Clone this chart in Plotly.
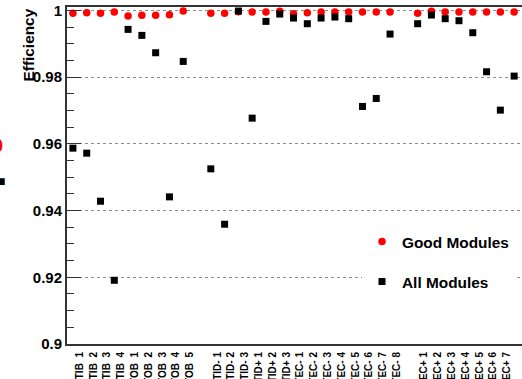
import plotly.graph_objects as go

# ---- data ----
barrel_labels = ["TIB  1", "TIB  2", "TIB  3", "TIB  4", "TOB  1", "TOB  2", "TOB  3", "TOB  4", "TOB  5"]
minus_labels = ["TID- 1", "TID- 2", "TID- 3", "TID+ 1", "TID+ 2", "TID+ 3",
                "TEC- 1", "TEC- 2", "TEC- 3", "TEC- 4", "TEC- 5", "TEC- 6", "TEC- 7", "TEC- 8"]
plus_labels = ["TEC+ 1", "TEC+ 2", "TEC+ 3", "TEC+ 4", "TEC+ 5", "TEC+ 6", "TEC+ 7", "TEC+ 8"]

good_modules = [0.9991, 0.9993, 0.9991, 0.9995, 0.9983, 0.9985, 0.9985, 0.9987, 0.9998,
                0.9991, 0.9991, 0.9996, 0.9995, 0.9995, 0.9997, 0.9990, 0.9993, 0.9995,
                0.9995, 0.9995, 0.9995, 0.9995, 0.9995,
                0.9991, 0.9997, 0.9995, 0.9995, 0.9995, 0.9995, 0.9995, 0.9995]
all_modules = [0.9587, 0.9572, 0.9428, 0.9191, 0.9943, 0.9925, 0.9873, 0.9441, 0.9847,
               0.9525, 0.9359, 0.9998, 0.9677, 0.9967, 0.9989, 0.9977, 0.9960, 0.9977,
               0.9980, 0.9975, 0.9712, 0.9736, 0.9929,
               0.9960, 0.9986, 0.9975, 0.9969, 0.9933, 0.9816, 0.9701, 0.9803]

ytick_vals = [0.9, 0.92, 0.94, 0.96, 0.98, 1.0]
ytick_text = ["0.9", "0.92", "0.94", "0.96", "0.98", "1"]

# positions: groups separated by one empty slot
labels, xpos = [], []
pos = 0
for grp in (barrel_labels, minus_labels, plus_labels):
    for lab in grp:
        labels.append(lab)
        xpos.append(pos)
        pos += 1
    pos += 1

FONT = "Liberation Sans, Arial, Helvetica, sans-serif"
W, H = 522, 379
ML, MR, MT, MB = 67, 0, 7, 35
PW = W - ML - MR
PH = H - MT - MB

fig = go.Figure()
fig.add_trace(go.Scatter(
    x=xpos, y=good_modules, mode="markers", name="Good Modules",
    legendgroup="g", marker=dict(symbol="circle", size=7.5, color="#ff0000"),
))
fig.add_trace(go.Scatter(
    x=xpos, y=all_modules, mode="markers", name="All Modules",
    legendgroup="a", marker=dict(symbol="square", size=7, color="#000000"),
))

fig.update_layout(
    width=W, height=H,
    margin=dict(l=ML, r=MR, t=MT, b=MB, pad=0),
    paper_bgcolor="white", plot_bgcolor="white",
    font=dict(family=FONT, color="black"),
    showlegend=True,
    legend=dict(
        x=(362 - ML) / PW, xanchor="left",
        y=(MT + PH - 225) / PH, yanchor="top",
        bgcolor="white", borderwidth=0,
        font=dict(family=FONT, size=15.4, weight="bold", color="black"),
        tracegroupgap=17,
    ),
    xaxis=dict(
        range=[-0.43, 32.57],
        showgrid=False, zeroline=False,
        showline=True, linecolor="#333333", linewidth=2, mirror=True,
        tickmode="array",
        tickvals=[p + 0.48 for p in xpos], ticktext=labels,
        tickangle=-90, ticks="", ticklabelstandoff=2,
        tickfont=dict(family=FONT, size=10, weight="bold", color="black"),
        automargin=False,
    ),
    yaxis=dict(
        range=[0.9, 1.00101],
        showgrid=True, gridcolor="#8c8c8c", griddash="dot", gridwidth=1,
        zeroline=False,
        showline=True, linecolor="#333333", linewidth=2, mirror=False,
        tickmode="array", tickvals=ytick_vals, ticktext=ytick_text,
        ticks="inside", ticklen=14, tickwidth=1, tickcolor="#333333",
        tickfont=dict(family=FONT, size=15, weight="bold", color="black"),
        minor=dict(dtick=0.005, tick0=0.9, ticks="inside", ticklen=7,
                   tickwidth=1, tickcolor="#333333", showgrid=False),
        automargin=False,
    ),
    annotations=[
        dict(text="Efficiency", textangle=-90, xref="paper", yref="paper",
             x=(28 - ML) / PW, xanchor="center",
             y=1.0, yanchor="top", showarrow=False,
             font=dict(family=FONT, size=15.4, weight="bold", color="black")),
        dict(text="0", xref="paper", yref="paper",
             x=(5 - ML) / PW, xanchor="right",
             y=(MT + PH - 146) / PH, yanchor="middle", showarrow=False,
             font=dict(family=FONT, size=18, weight="bold", color="#ff0000")),
        dict(text="■", xref="paper", yref="paper",
             x=(7 - ML) / PW, xanchor="right",
             y=(MT + PH - 181) / PH, yanchor="middle", showarrow=False,
             font=dict(family=FONT, size=14, color="black")),
    ],
)

fig.write_html("out.html")
